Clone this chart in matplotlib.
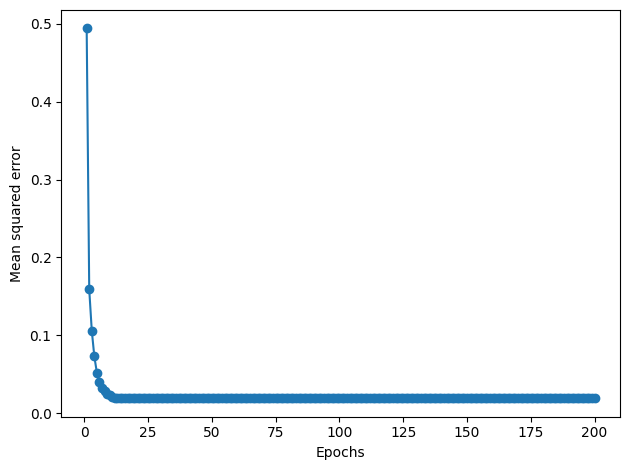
import matplotlib
matplotlib.use("Agg")
import matplotlib.pyplot as plt

# MSE per epoch (epochs 1..200)
early_errors = [0.494, 0.159, 0.106, 0.073, 0.052, 0.040, 0.033, 0.028,
                0.025, 0.023, 0.021, 0.0200, 0.0196]
plateau_error = 0.0193
errors = early_errors + [plateau_error] * (200 - len(early_errors))
epochs = list(range(1, len(errors) + 1))

fig, ax = plt.subplots(figsize=(6.4, 4.8), dpi=100)
ax.plot(epochs, errors, marker='o')
ax.set_xlabel('Epochs')
ax.set_ylabel('Mean squared error')
plt.tight_layout()
plt.savefig('out.png', bbox_inches='tight')
